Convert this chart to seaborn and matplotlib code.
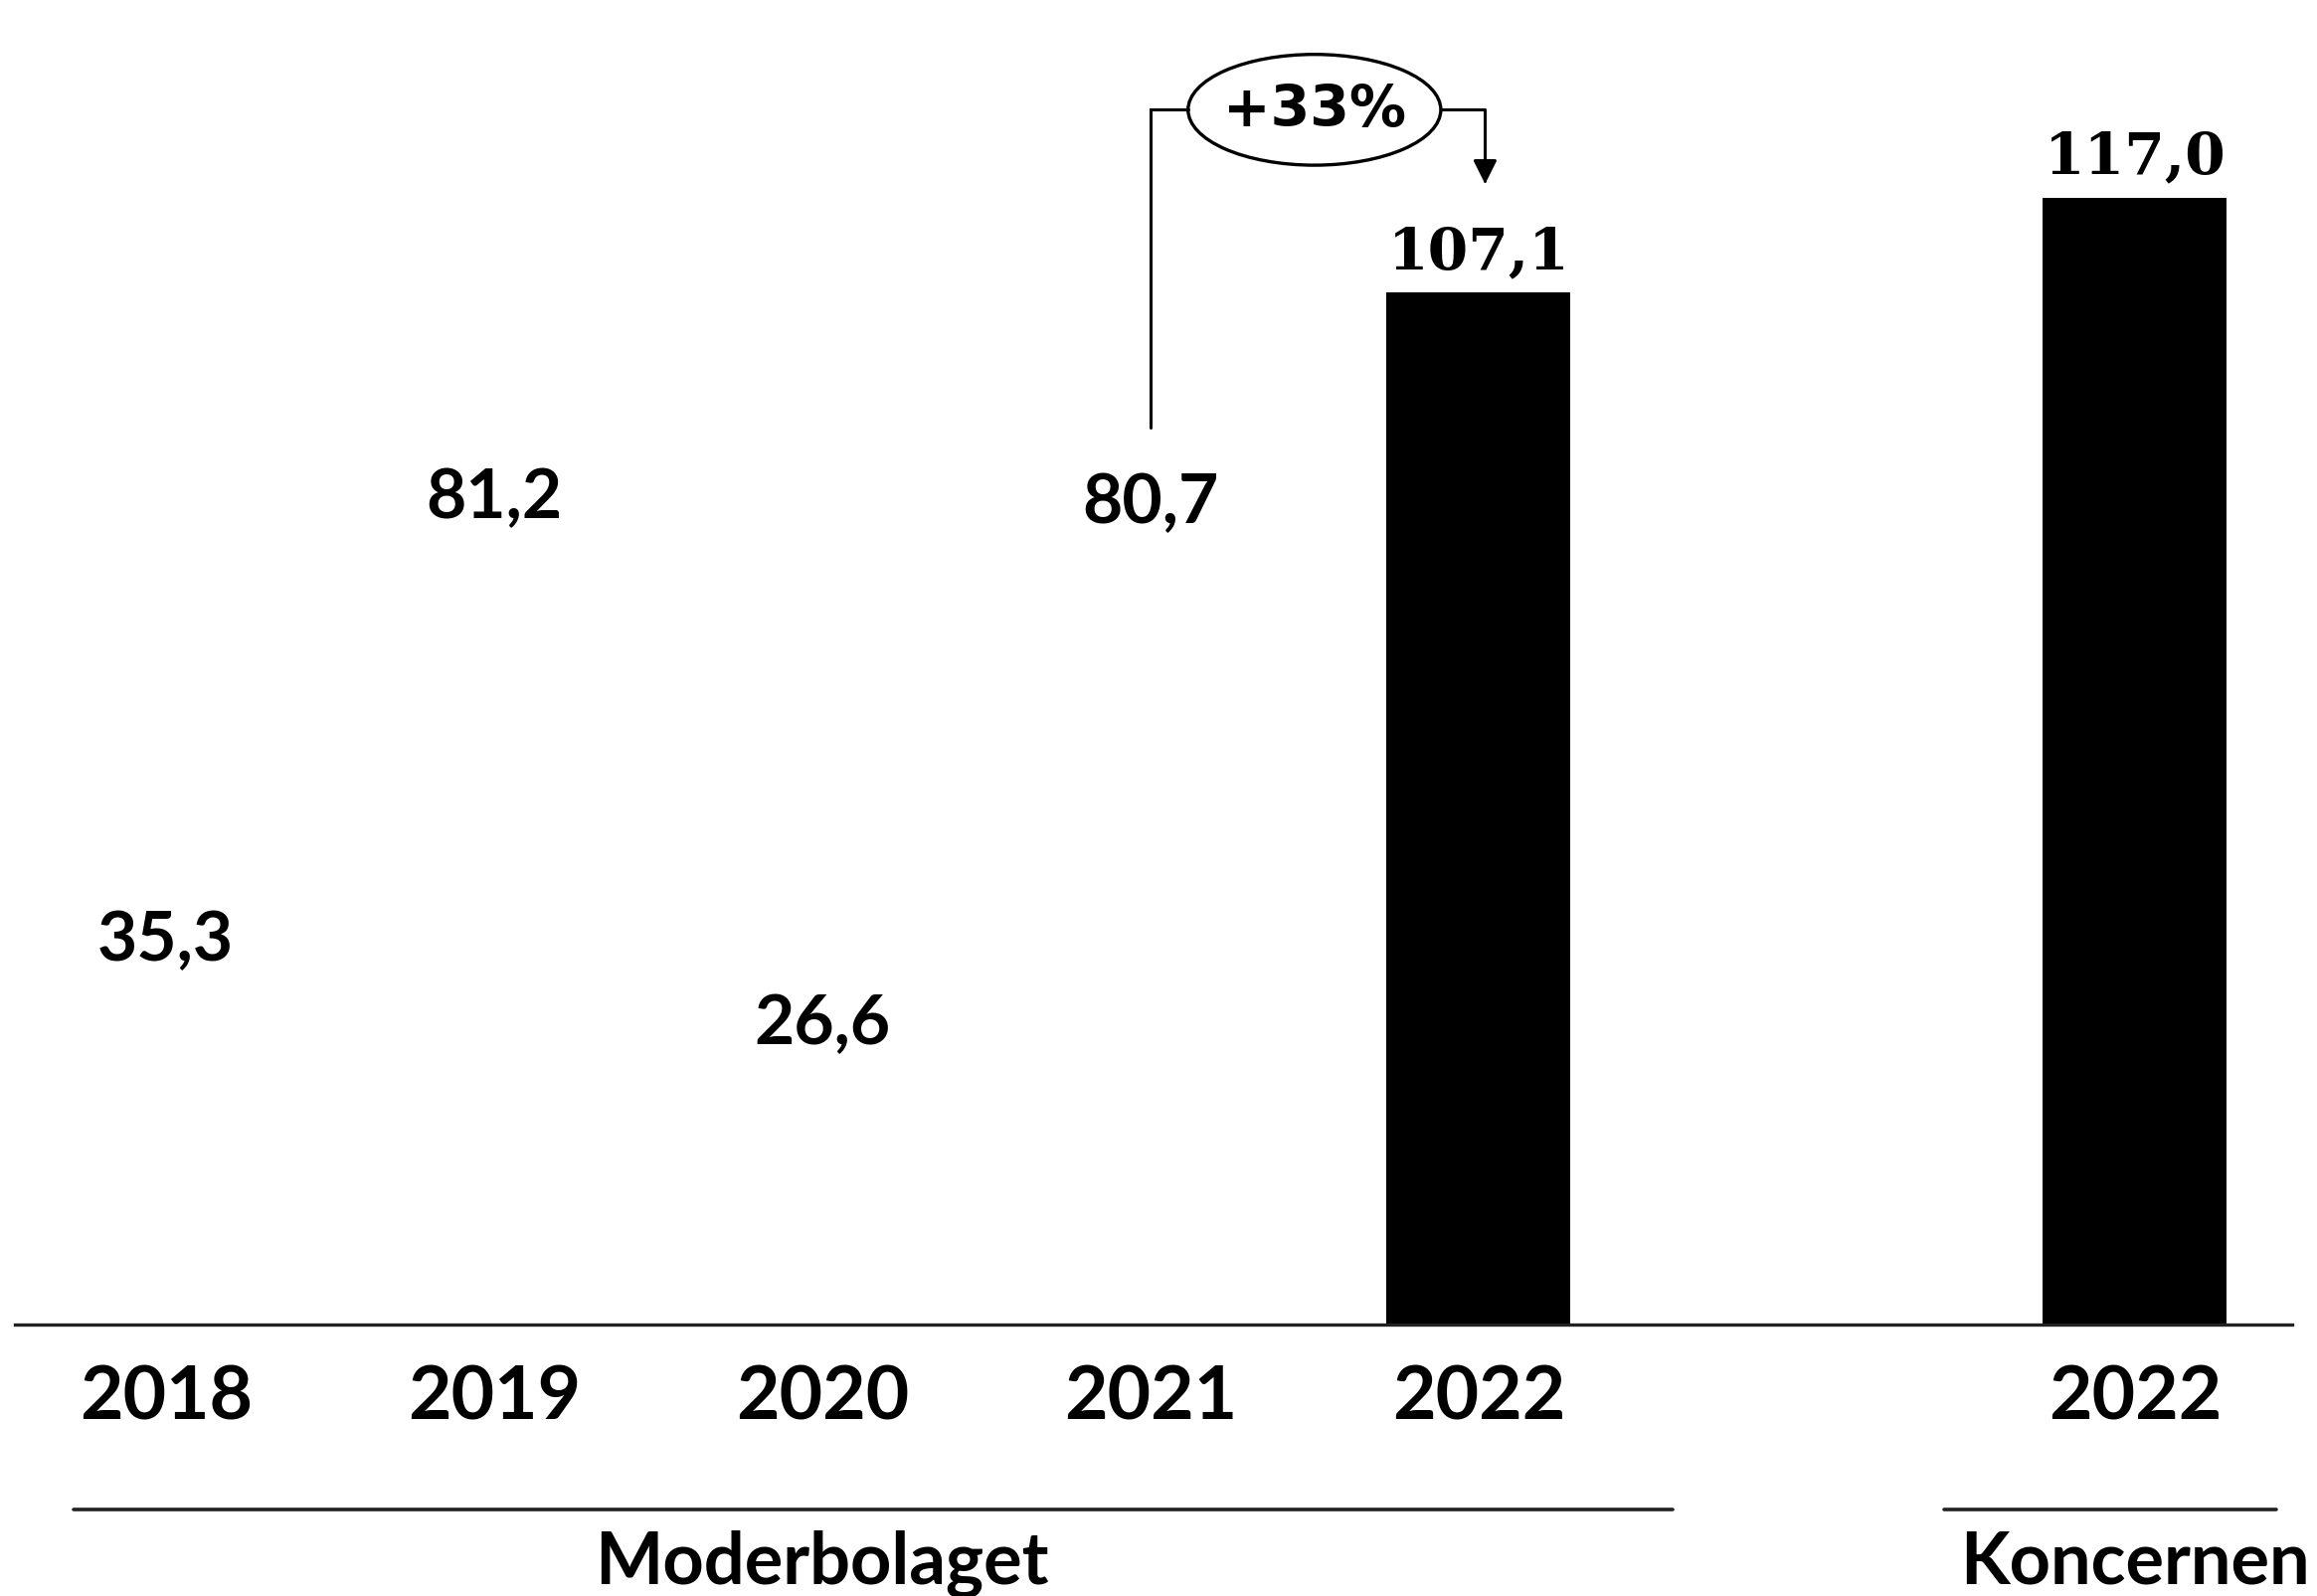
import numpy as np
import pandas as pd
import matplotlib.pyplot as plt
from matplotlib.patches import Ellipse
from matplotlib.lines import Line2D
import matplotlib.transforms as mtransforms
import seaborn as sns

# data
moder_years = ["2018", "2019", "2020", "2021", "2022"]
moder_values = [35.3, 81.2, 26.6, 80.7, 107.1]
koncern_years = ["2022"]
koncern_values = [117.0]
group_names = ["Moderbolaget", "Koncernen"]
growth_label = "+33%"

sns.set_style("white")
plt.rcParams["font.family"] = ["Lato", "DejaVu Sans"]
plt.rcParams["text.color"] = "black"
plt.rcParams["xtick.color"] = "black"

keys = [f"M{y}" for y in moder_years] + [f"K{y}" for y in koncern_years]
df = pd.DataFrame({
    "key": keys,
    "value": moder_values + koncern_values,
    "label": moder_years + koncern_years,
})
order = [f"M{y}" for y in moder_years] + ["gap"] + [f"K{y}" for y in koncern_years]
# only the latest year is highlighted; earlier bars are blank in the original
palette = {k: "white" for k in keys}
palette[f"M{moder_years[-1]}"] = "black"
palette[f"K{koncern_years[-1]}"] = "black"

fig = plt.figure(figsize=(11.65, 8.03), dpi=200)
ax = fig.add_axes([0.0064, 0.170, 0.983, 0.830])
sns.barplot(data=df, x="key", y="value", hue="key", order=order, hue_order=keys,
            palette=palette, width=0.56, legend=False, ax=ax, linewidth=0)

ax.set_xlim(-0.46, 6.48)
ax.set_ylim(0, 137.6)
ax.set_xticks(range(len(order)))
ax.set_xticklabels(moder_years + [""] + koncern_years, fontsize=27, fontweight="bold",
                   color="black")
ax.tick_params(axis="x", length=0, pad=14)
ax.set_yticks([])
ax.set_xlabel("")
ax.set_ylabel("")
for s in ["top", "left", "right"]:
    ax.spines[s].set_visible(False)
ax.spines["bottom"].set_linewidth(1.2)
ax.spines["bottom"].set_color("#222222")

# value labels
pos = {k: order.index(k) for k in keys}
for k, v in zip(df["key"], df["value"]):
    txt = f"{v:.1f}".replace(".", ",")
    if palette[k] == "black":
        fam, fs = ["DejaVu Serif"], 21
    else:
        fam, fs = ["Lato", "DejaVu Sans"], 25
    ax.annotate(txt, (pos[k], v), xytext=(0, 9), textcoords="offset points",
                ha="center", va="baseline", fontsize=fs, fontweight="bold",
                family=fam, color="black")

# growth bracket from 2021 to 2022
x0 = pos[f"M{moder_years[-2]}"]
x1 = pos[f"M{moder_years[-1]}"]
ytop = max(moder_values[-2:]) + 19
xm = (x0 + x1) / 2
ew, eh = 0.77, 11.5
ax.plot([x0, x0, xm - ew / 2], [moder_values[-2] + 12.4, ytop, ytop],
        color="black", lw=1.1, solid_joinstyle="miter")
ax.add_patch(Ellipse((xm, ytop), ew, eh, fill=False, ec="black", lw=1.2))
ax.text(xm, ytop, growth_label, ha="center", va="center", fontsize=20.5,
        fontweight="bold", family=["DejaVu Sans"], color="black")
ax.annotate("", xy=(x1 + 0.02, moder_values[-1] + 11.3), xytext=(xm + ew / 2, ytop),
            arrowprops=dict(arrowstyle="-|>", connectionstyle="angle,angleA=0,angleB=90,rad=0",
                            color="black", lw=1.1, mutation_scale=18, shrinkA=0, shrinkB=0))

# group lines and names below the axis
trans = mtransforms.blended_transform_factory(ax.transData, fig.transFigure)
groups = [
    (group_names[0], -0.28, pos[f"M{moder_years[-1]}"] + 0.59, pos[f"M{moder_years[len(moder_years) // 2]}"]),
    (group_names[1], pos[f"K{koncern_years[0]}"] - 0.58, pos[f"K{koncern_years[0]}"] + 0.43, pos[f"K{koncern_years[0]}"]),
]
for name, xa, xb, xc in groups:
    fig.add_artist(Line2D([xa, xb], [0.054, 0.054], transform=trans, color="#222222", lw=1.3))
    fig.text(xc, 0.021, name, transform=trans, ha="center", va="center",
             fontsize=26, fontweight="bold", color="black")

fig.savefig("out.png", dpi=200, facecolor="white")
